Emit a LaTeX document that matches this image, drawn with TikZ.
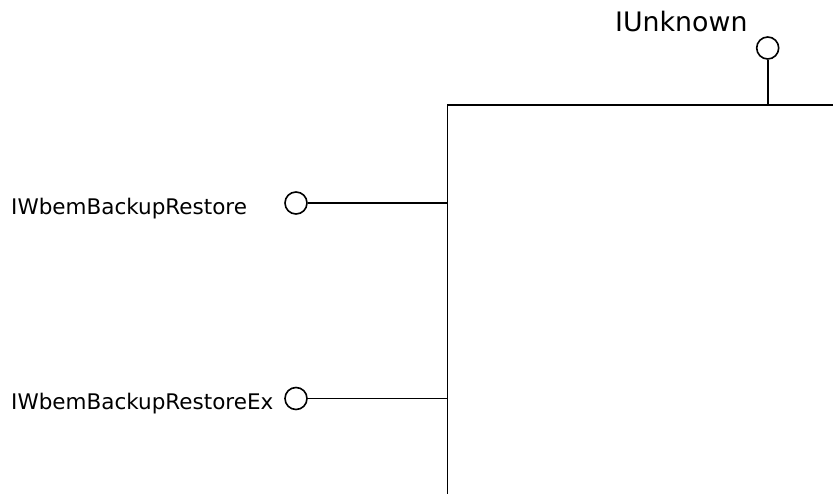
\documentclass[tikz,border=0pt]{standalone}
\usepackage{fontspec}
\setmainfont{DejaVu Sans}
\begin{document}
\begin{tikzpicture}[x=1pt,y=1pt,
  lolli/.style={circle,draw,line width=1.6pt,minimum size=22pt,inner sep=0pt},
  conn/.style={line width=1.8pt},
  lbl/.style={font=\fontsize{21.5}{24}\selectfont,inner sep=0pt,anchor=base west},
  compbox/.style={draw,line width=1.8pt,rectangle,inner sep=0pt}]
\clip (0,0) rectangle (833,493);
\node[compbox,minimum width=420pt,minimum height=420pt,anchor=north west] (comp) at (446.5,389) {};
\node[lolli] (u) at (767.7,445) {};
\draw[conn] (u.south) -- (u.south |- comp.north);
\node[lbl,font=\fontsize{26.8}{30}\selectfont] (ul) at (615,461) {IUnknown};
\node[lolli] (c1) at (296,290) {};
\draw[conn] (c1.east) -- (c1.east -| comp.west);
\node[lbl] (l1) at (11,278) {IWbemBackupRestore};
\node[lolli] (c2) at (296,94.5) {};
\draw[conn] (c2.east) -- (c2.east -| comp.west);
\node[lbl] (l2) at (11,83) {IWbemBackupRestoreEx};
\end{tikzpicture}
\end{document}
